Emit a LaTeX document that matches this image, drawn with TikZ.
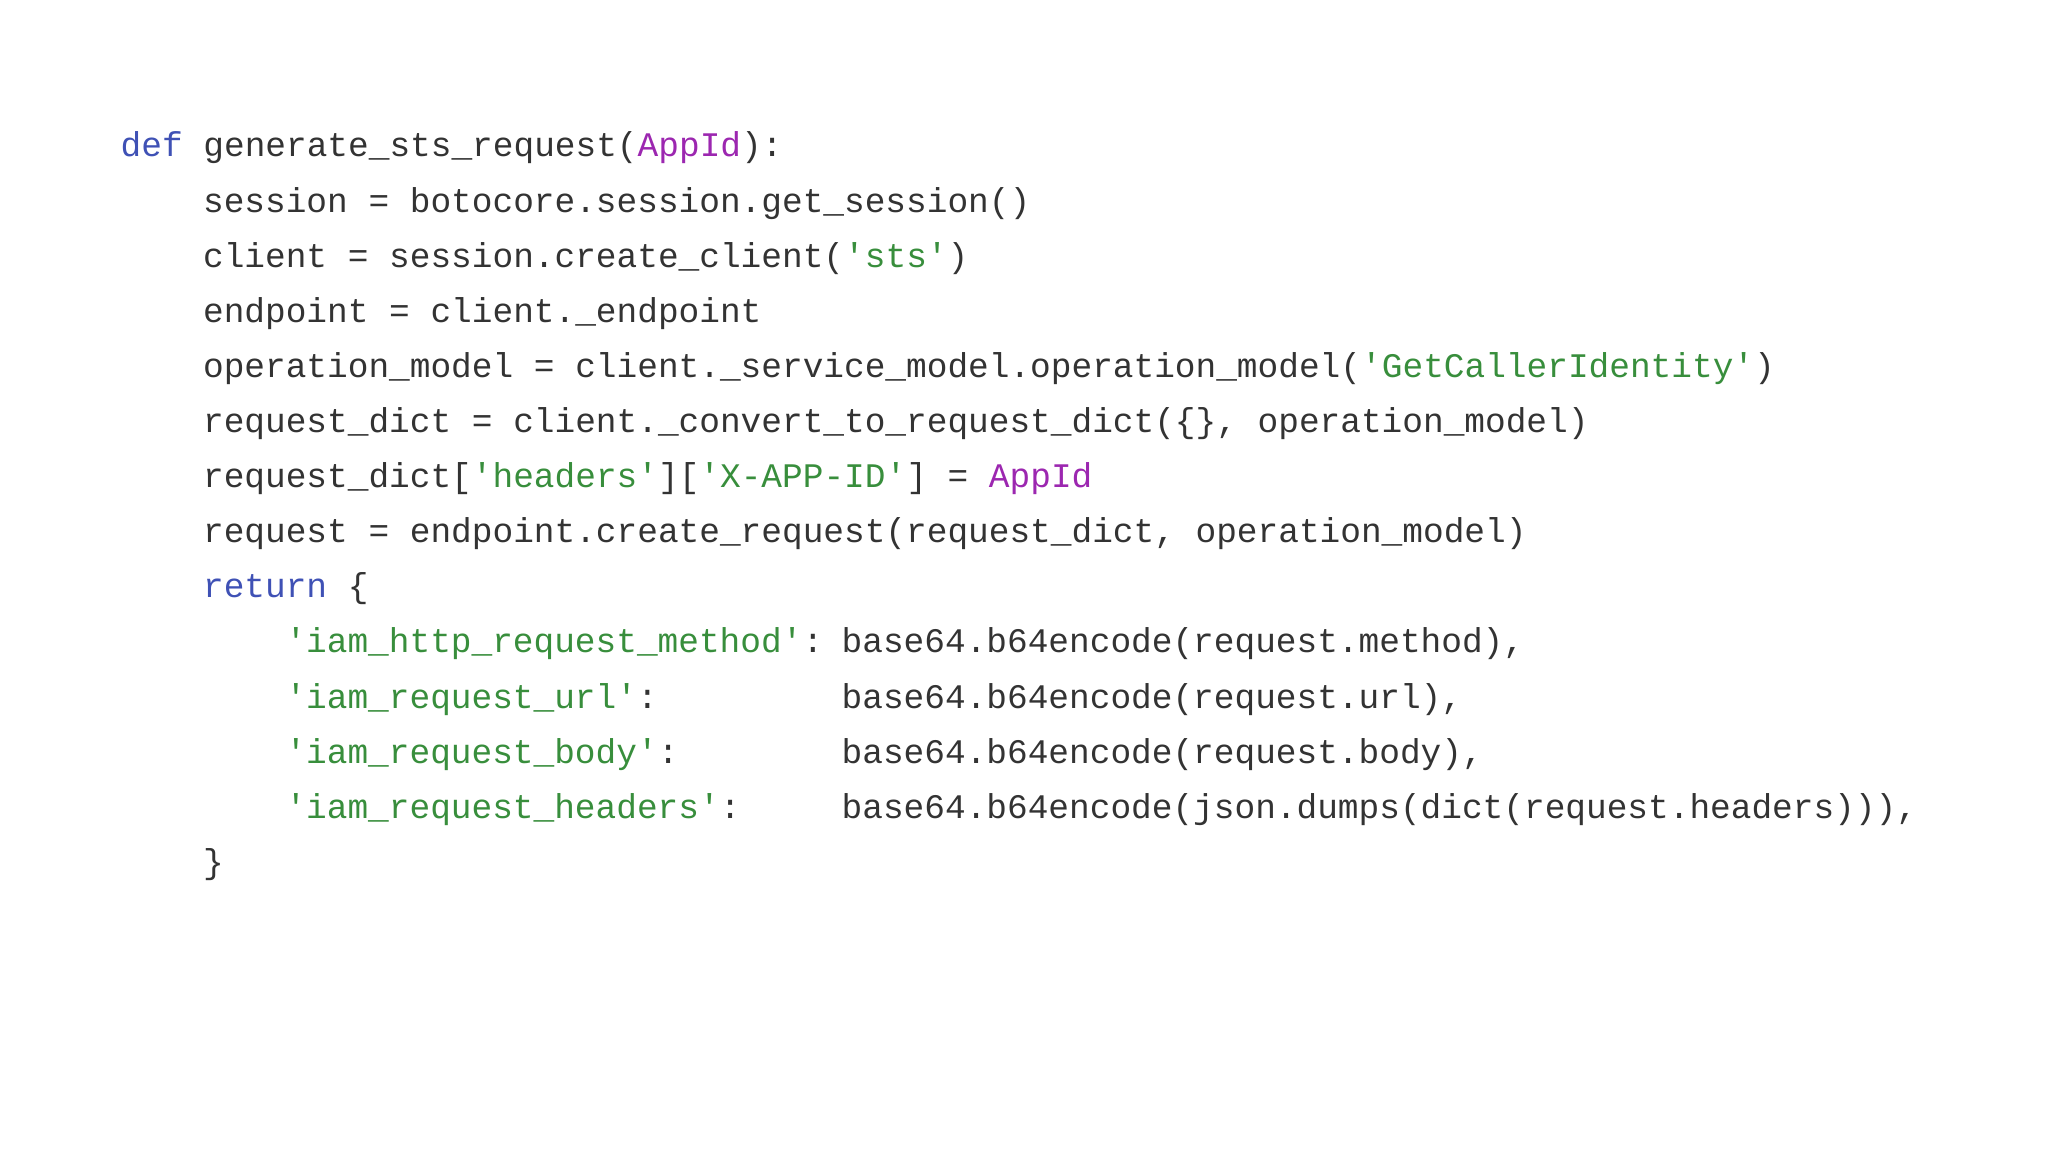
\documentclass[tikz,border=0pt]{standalone}
\usepackage{fontspec}
\newfontfamily\code{Liberation Mono}
\definecolor{kw}{HTML}{3F51B5}
\definecolor{pu}{HTML}{9C27B0}
\definecolor{gr}{HTML}{388E3C}
\definecolor{tx}{HTML}{333333}
\newcommand{\Kw}[1]{\textcolor{kw}{#1}}
\newcommand{\Pu}[1]{\textcolor{pu}{#1}}
\newcommand{\Gr}[1]{\textcolor{gr}{#1}}
\tikzset{codeline/.style={anchor=base west,inner sep=0pt,text=tx,font=\code\fontsize{9.8pt}{12pt}\selectfont}}
\begin{document}
\begin{tikzpicture}[x=0.01cm,y=-0.01cm]
\useasboundingbox (0,0) rectangle (2048,1152);
\def\cw{20.6}
\def\lh{55.1}
\foreach \n/\c/\l/\t in {
a/0/0/{\Kw{def} generate\_sts\_request(\Pu{AppId}):},
b/4/1/{session = botocore.session.get\_session()},
c/4/2/{client = session.create\_client(\Gr{'sts'})},
d/4/3/{endpoint = client.\_endpoint},
e/4/4/{operation\_model = client.\_service\_model.operation\_model(\Gr{'GetCallerIdentity'})},
f/4/5/{request\_dict = client.\_convert\_to\_request\_dict(\{\}, operation\_model)},
g/4/6/{request\_dict[\Gr{'headers'}][\Gr{'X-APP-ID'}] = \Pu{AppId}},
h/4/7/{request = endpoint.create\_request(request\_dict, operation\_model)},
i/4/8/{\Kw{return} \{},
j/8/9/{\Gr{'iam\_http\_request\_method'}:},
k/8/10/{\Gr{'iam\_request\_url'}:},
m/8/11/{\Gr{'iam\_request\_body'}:},
n/8/12/{\Gr{'iam\_request\_headers'}:},
jv/35/9/{base64.b64encode(request.method),},
kv/35/10/{base64.b64encode(request.url),},
mv/35/11/{base64.b64encode(request.body),},
nv/35/12/{base64.b64encode(json.dumps(dict(request.headers))),},
o/4/13/{\}}}
  \node[codeline] (\n) at ({120+\c*\cw},{157+\l*\lh}) {\t};
\end{tikzpicture}
\end{document}
